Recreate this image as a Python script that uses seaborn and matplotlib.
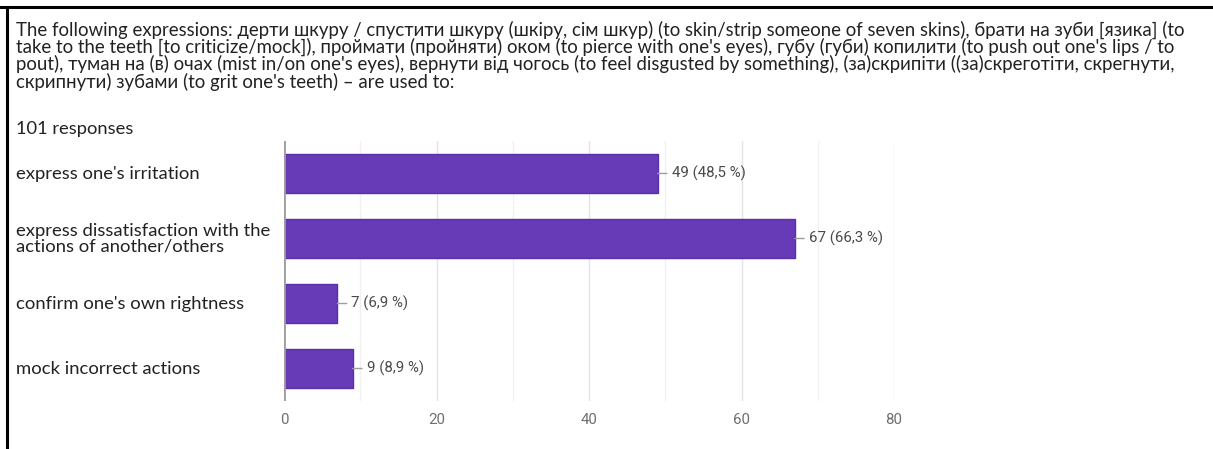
import matplotlib
matplotlib.use("Agg")
import matplotlib.pyplot as plt
import matplotlib.transforms as mtransforms
from matplotlib.lines import Line2D
from matplotlib.ticker import MultipleLocator
import seaborn as sns
import pandas as pd

# Survey answers and their counts
categories = [
    "express one's irritation",
    "express dissatisfaction with the\nactions of another/others",
    "confirm one's own rightness",
    "mock incorrect actions",
]
counts = [49, 67, 7, 9]
percents = ["48,5", "66,3", "6,9", "8,9"]
x_ticks = [0, 20, 40, 60, 80]
n_responses = 101

question_lines = [
    "The following expressions: дерти шкуру / спустити шкуру (шкіру, сім шкур) (to skin/strip someone of seven skins), брати на зуби [язика] (to",
    "take to the teeth [to criticize/mock]), проймати (пройняти) оком (to pierce with one's eyes), губу (губи) копилити (to push out one's lips / to",
    "pout), туман на (в) очах (mist in/on one's eyes), вернути від чогось (to feel disgusted by something), (за)скрипіти ((за)скреготіти, скрегнути,",
    "скрипнути) зубами (to grit one's teeth) – are used to:",
]

sns.set_theme(style="white")
text_font = ["Lato", "Noto Sans", "DejaVu Sans"]
num_font = ["Roboto", "DejaVu Sans"]
plt.rcParams["font.family"] = text_font

W, H = 1213, 449
fig = plt.figure(figsize=(W / 100, H / 100), dpi=100)
fig.patch.set_facecolor("white")

ax = fig.add_axes([284 / W, 1 - 401 / H, (894 - 284) / W, (401 - 141) / H])

df = pd.DataFrame({"category": categories, "count": counts})
purple = "#673AB7"
sns.barplot(data=df, y="category", x="count", orient="h", color=purple,
            saturation=1, width=0.61, edgecolor="#5A2FA8", linewidth=1,
            ax=ax, zorder=3)

ax.set_xlim(0, 80)
ax.set_ylim(3.5, -0.5)
ax.set_xticks(x_ticks)
ax.xaxis.set_minor_locator(MultipleLocator(10))
ax.grid(axis="x", which="major", color="#e3e3e3", lw=1, zorder=0)
ax.grid(axis="x", which="minor", color="#f1f1f1", lw=1, zorder=0)
ax.set_axisbelow(True)
for s in ax.spines.values():
    s.set_visible(False)
ax.axvline(0, color="#9e9e9e", lw=2, zorder=4)
ax.set_xlabel("")
ax.set_ylabel("")
ax.set_yticklabels([])
ax.tick_params(axis="y", length=0)
ax.tick_params(axis="x", length=0, pad=9, labelsize=10.8, labelcolor="#6f6f6f")
for lbl in ax.get_xticklabels():
    lbl.set_fontfamily(num_font)

# Value labels with a short leader line
for i, (c, p) in enumerate(zip(counts, percents)):
    ax.annotate(f"{c} ({p} %)", xy=(c, i), xytext=(14, 0),
                textcoords="offset pixels", va="center", ha="left",
                fontsize=10.8, color="#4a4a4a", family=num_font,
                arrowprops=dict(arrowstyle="-", color="#9e9e9e", lw=1,
                                shrinkA=1, shrinkB=0, relpos=(0, 0.5)))

# Category names, left aligned at the figure margin
trans = mtransforms.blended_transform_factory(fig.transFigure, ax.transData)
for i, cat in enumerate(categories):
    ax.text(16 / W, i, cat, transform=trans, ha="left", va="center",
            fontsize=13.3, color="#222222", linespacing=0.95, clip_on=False)

# Question text
y0 = 30
for k, line in enumerate(question_lines):
    fig.text(16 / W, 1 - (y0 + 17.2 * k) / H, line, ha="left", va="center",
             fontsize=13.4, color="#222222")
fig.text(16 / W, 1 - 129 / H, f"{n_responses} responses", ha="left",
         va="center", fontsize=13.2, color="#222222")

# Frame lines along the top and left edges
fig.add_artist(Line2D([0, 1], [1 - 7 / H, 1 - 7 / H], transform=fig.transFigure,
                      color="black", lw=2.2))
fig.add_artist(Line2D([7 / W, 7 / W], [0, 1 - 7 / H], transform=fig.transFigure,
                      color="black", lw=2.2))

fig.savefig("out.png", dpi=100, facecolor="white")
